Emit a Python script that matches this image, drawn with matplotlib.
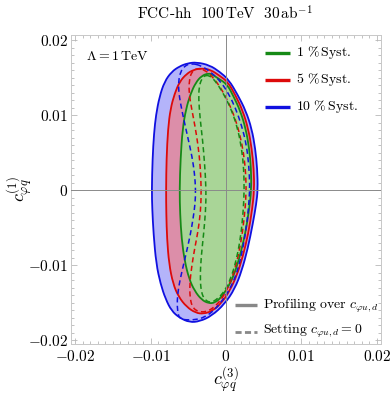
import numpy as np
import matplotlib
matplotlib.use("Agg")
import matplotlib.pyplot as plt
from matplotlib.ticker import MultipleLocator
from matplotlib.path import Path
from matplotlib.patches import PathPatch

plt.rcParams['mathtext.fontset'] = 'cm'
plt.rcParams['font.family'] = ['cmr10', 'DejaVu Serif']
plt.rcParams['axes.unicode_minus'] = False

# ---------------- data (contours) ----------------
syst_labels = ['1 % Syst.', '5 % Syst.', '10 % Syst.']

blue_prof_x = [-0.00389, -0.00509, -0.00615, -0.00721, -0.00815, -0.00881, -0.00927, -0.00954, -0.00973, -0.00983,
               -0.00977, -0.00960, -0.00924, -0.00867, -0.00801, -0.00721, -0.00615, -0.00482, -0.00349, -0.00190,
               -0.00017, 0.00116, 0.00208, 0.00288, 0.00355, 0.00401, 0.00421, 0.00414, 0.00388, 0.00341,
               0.00262, 0.00155, 0.00036, -0.00084, -0.00216]
blue_prof_y = [0.01704, 0.01690, 0.01650, 0.01577, 0.01444, 0.01244, 0.01004, 0.00750, 0.00417, 0.00004,
               -0.00249, -0.00583, -0.00983, -0.01249, -0.01449, -0.01609, -0.01702, -0.01762, -0.01749, -0.01676,
               -0.01516, -0.01316, -0.01076, -0.00782, -0.00449, -0.00183, 0.00004, 0.00284, 0.00551, 0.00817,
               0.01057, 0.01270, 0.01471, 0.01577, 0.01664]

red_prof_x = [-0.00323, -0.00429, -0.00522, -0.00615, -0.00681, -0.00735, -0.00768, -0.00788, -0.00794, -0.00791,
              -0.00781, -0.00754, -0.00701, -0.00628, -0.00522, -0.00402, -0.00296, -0.00177, -0.00057, 0.00049,
              0.00142, 0.00222, 0.00295, 0.00348, 0.00374, 0.00368, 0.00341, 0.00295, 0.00222, 0.00129,
              0.00023, -0.00084, -0.00203]
red_prof_y = [0.01624, 0.01604, 0.01550, 0.01444, 0.01284, 0.01084, 0.00817, 0.00417, 0.00004, -0.00316,
              -0.00649, -0.00983, -0.01249, -0.01422, -0.01556, -0.01636, -0.01649, -0.01609, -0.01502, -0.01342,
              -0.01142, -0.00889, -0.00583, -0.00249, 0.00004, 0.00284, 0.00551, 0.00817, 0.01057, 0.01257,
              0.01444, 0.01524, 0.01604]

green_prof_x = [-0.00230, -0.00323, -0.00402, -0.00469, -0.00529, -0.00575, -0.00602, -0.00615, -0.00608, -0.00588,
                -0.00548, -0.00489, -0.00416, -0.00323, -0.00230, -0.00150, -0.00070, 0.00023, 0.00102, 0.00182,
                0.00255, 0.00308, 0.00335, 0.00332, 0.00308, 0.00262, 0.00189, 0.00102, 0.00016, -0.00097,
                -0.00177]
green_prof_y = [0.01557, 0.01524, 0.01430, 0.01284, 0.01084, 0.00817, 0.00417, 0.00004, -0.00316, -0.00649,
                -0.00942, -0.01182, -0.01342, -0.01462, -0.01509, -0.01502, -0.01436, -0.01302, -0.01142, -0.00889,
                -0.00583, -0.00249, 0.00004, 0.00284, 0.00551, 0.00817, 0.01057, 0.01244, 0.01410, 0.01484,
                0.01537]

blue_zero_x = [-0.00455, -0.00548, -0.00602, -0.00628, -0.00628, -0.00602, -0.00555, -0.00502, -0.00449, -0.00416,
               -0.00402, -0.00409, -0.00436, -0.00475, -0.00529, -0.00582, -0.00628, -0.00648, -0.00641, -0.00615,
               -0.00535, -0.00416, -0.00283, -0.00150, -0.00031, 0.00076, 0.00162, 0.00228, 0.00282, 0.00308,
               0.00315, 0.00301, 0.00268, 0.00208, 0.00129, 0.00036, -0.00070, -0.00190, -0.00323]
blue_zero_y = [0.01690, 0.01657, 0.01577, 0.01457, 0.01324, 0.01150, 0.00924, 0.00684, 0.00444, 0.00217,
               0.00004, -0.00183, -0.00383, -0.00609, -0.00849, -0.01076, -0.01289, -0.01476, -0.01622, -0.01716,
               -0.01729, -0.01729, -0.01696, -0.01596, -0.01449, -0.01276, -0.01049, -0.00756, -0.00409, -0.00116,
               0.00084, 0.00351, 0.00617, 0.00857, 0.01084, 0.01284, 0.01444, 0.01564, 0.01657]

red_zero_x = [-0.00389, -0.00455, -0.00489, -0.00489, -0.00455, -0.00409, -0.00369, -0.00340, -0.00327, -0.00336,
              -0.00369, -0.00416, -0.00455, -0.00482, -0.00475, -0.00442, -0.00363, -0.00256, -0.00150, -0.00044,
              0.00049, 0.00129, 0.00195, 0.00242, 0.00268, 0.00262, 0.00235, 0.00182, 0.00109, 0.00023,
              -0.00070, -0.00177, -0.00283]
red_zero_y = [0.01624, 0.01577, 0.01457, 0.01284, 0.01084, 0.00844, 0.00591, 0.00311, 0.00004, -0.00276,
              -0.00543, -0.00782, -0.01022, -0.01262, -0.01449, -0.01569, -0.01622, -0.01622, -0.01556, -0.01436,
              -0.01249, -0.01022, -0.00716, -0.00383, -0.00049, 0.00217, 0.00484, 0.00751, 0.00991, 0.01191,
              0.01364, 0.01510, 0.01604]

green_zero_x = [-0.00270, -0.00323, -0.00356, -0.00363, -0.00343, -0.00309, -0.00283, -0.00263, -0.00270, -0.00296,
                -0.00329, -0.00343, -0.00329, -0.00283, -0.00203, -0.00110, -0.00017, 0.00062, 0.00135, 0.00195,
                0.00228, 0.00242, 0.00235, 0.00208, 0.00155, 0.00082, -0.00004, -0.00097, -0.00190]
green_zero_y = [0.01537, 0.01484, 0.01377, 0.01217, 0.00951, 0.00657, 0.00351, 0.00004, -0.00276, -0.00583,
                -0.00889, -0.01156, -0.01356, -0.01462, -0.01502, -0.01449, -0.01342, -0.01182, -0.00942, -0.00623,
                -0.00289, 0.00004, 0.00284, 0.00551, 0.00817, 0.01044, 0.01230, 0.01391, 0.01510]

major_ticks = [-0.02, -0.01, 0.0, 0.01, 0.02]
tick_labels = [r'$-0.02$', r'$-0.01$', r'$0$', r'$0.01$', r'$0.02$']

# ---------------- styling ----------------
line_cols = {'blue': '#1010e0', 'red': '#dd0a0a', 'green': '#168a16'}
fill_cols = {'blue': '#b4b4fa', 'red': '#dc8ea9', 'green': '#a9d597'}


def closed_smooth_path(xs, ys):
    """Closed path through the traced contour vertices, rendered with
    quadratic Bezier segments (vertices act as control points)."""
    P = np.column_stack([xs, ys])
    M = 0.5 * (P + np.roll(P, -1, axis=0))
    verts = [M[-1]]
    codes = [Path.MOVETO]
    for i in range(len(P)):
        verts += [P[i], M[i]]
        codes += [Path.CURVE3, Path.CURVE3]
    verts.append(M[-1])
    codes.append(Path.CLOSEPOLY)
    return Path(np.array(verts), codes)


fig = plt.figure(figsize=(3.90, 3.98), dpi=100)
ax = fig.add_axes([71/390, 1-343.5/398, 310/390, 308.5/398])

prof = [('blue', blue_prof_x, blue_prof_y), ('red', red_prof_x, red_prof_y), ('green', green_prof_x, green_prof_y)]
zero = [('blue', blue_zero_x, blue_zero_y), ('red', red_zero_x, red_zero_y), ('green', green_zero_x, green_zero_y)]

for c, xs, ys in prof:
    ax.add_patch(PathPatch(closed_smooth_path(xs, ys), facecolor=fill_cols[c], edgecolor='none', zorder=1))
for c, xs, ys in prof:
    ax.add_patch(PathPatch(closed_smooth_path(xs, ys), facecolor='none', edgecolor=line_cols[c],
                           lw=1.3, zorder=3))
for c, xs, ys in zero:
    ax.add_patch(PathPatch(closed_smooth_path(xs, ys), facecolor='none', edgecolor=line_cols[c],
                           lw=1.1, ls=(0, (3.4, 2.2)), zorder=3))

ax.axhline(0, color='#8a8a8a', lw=0.7, zorder=4)
ax.axvline(0, color='#8a8a8a', lw=0.7, zorder=4)

ax.set_xlim(-0.02053, 0.02053)
ax.set_ylim(-0.02044, 0.02067)
ax.set_xticks(major_ticks)
ax.set_yticks(major_ticks)
ax.set_xticklabels(tick_labels, fontsize=11)
ax.set_yticklabels(tick_labels, fontsize=11)
ax.xaxis.set_minor_locator(MultipleLocator(0.001))
ax.yaxis.set_minor_locator(MultipleLocator(0.001))
ax.tick_params(which='both', direction='in', top=True, right=True, color='#b8b8b8', width=0.6)
ax.tick_params(which='major', length=4.5)
ax.tick_params(which='minor', length=2.2)
ax.tick_params(axis='x', pad=4)
ax.tick_params(axis='y', pad=2)
for s in ax.spines.values():
    s.set_color('#c8c8c8')
    s.set_linewidth(0.7)

ax.set_xlabel(r'$c_{\varphi q}^{(3)}$', fontsize=13, labelpad=1)
ax.yaxis.set_label_coords(-0.165, 0.5)
ax.set_ylabel(r'$c_{\varphi q}^{(1)}$', fontsize=13, va='center')

fig.text(225/390, 1-14/398, r'$\mathrm{FCC}$-$\mathrm{hh}\ \ 100\,\mathrm{TeV}\ \ 30\,\mathrm{ab}^{-1}$',
         ha='center', va='center', fontsize=11)

ax.text(-0.0186, 0.0178, r'$\Lambda = 1\,\mathrm{TeV}$', fontsize=10, ha='left', va='center')

# legends
leg_cols = ['green', 'red', 'blue']
leg_y = [0.01830, 0.01473, 0.01113]
for lab, c, yy in zip(syst_labels, leg_cols, leg_y):
    ax.plot([0.00517, 0.00850], [yy, yy], color=line_cols[c], lw=2.4, solid_capstyle='butt', zorder=5)
    ax.text(0.00930, yy, r'$' + lab.split(' ')[0] + r'\ \%\,\mathrm{Syst.}$', fontsize=10,
            ha='left', va='center')

ax.plot([0.00115, 0.00407], [-0.01537, -0.01537], color='#888888', lw=2.4, solid_capstyle='butt', zorder=5)
ax.text(0.00490, -0.01537, r'$\mathrm{Profiling\ over}\ c_{\varphi u,d}$', fontsize=10, ha='left', va='center')
ax.plot([0.00115, 0.00407], [-0.01897, -0.01897], color='#888888', lw=2.0, ls=(0, (2.2, 1.2)), zorder=5)
ax.text(0.00490, -0.01880, r'$\mathrm{Setting}\ c_{\varphi u,d} = 0$', fontsize=10, ha='left', va='center')

fig.savefig('out.png', dpi=100)
